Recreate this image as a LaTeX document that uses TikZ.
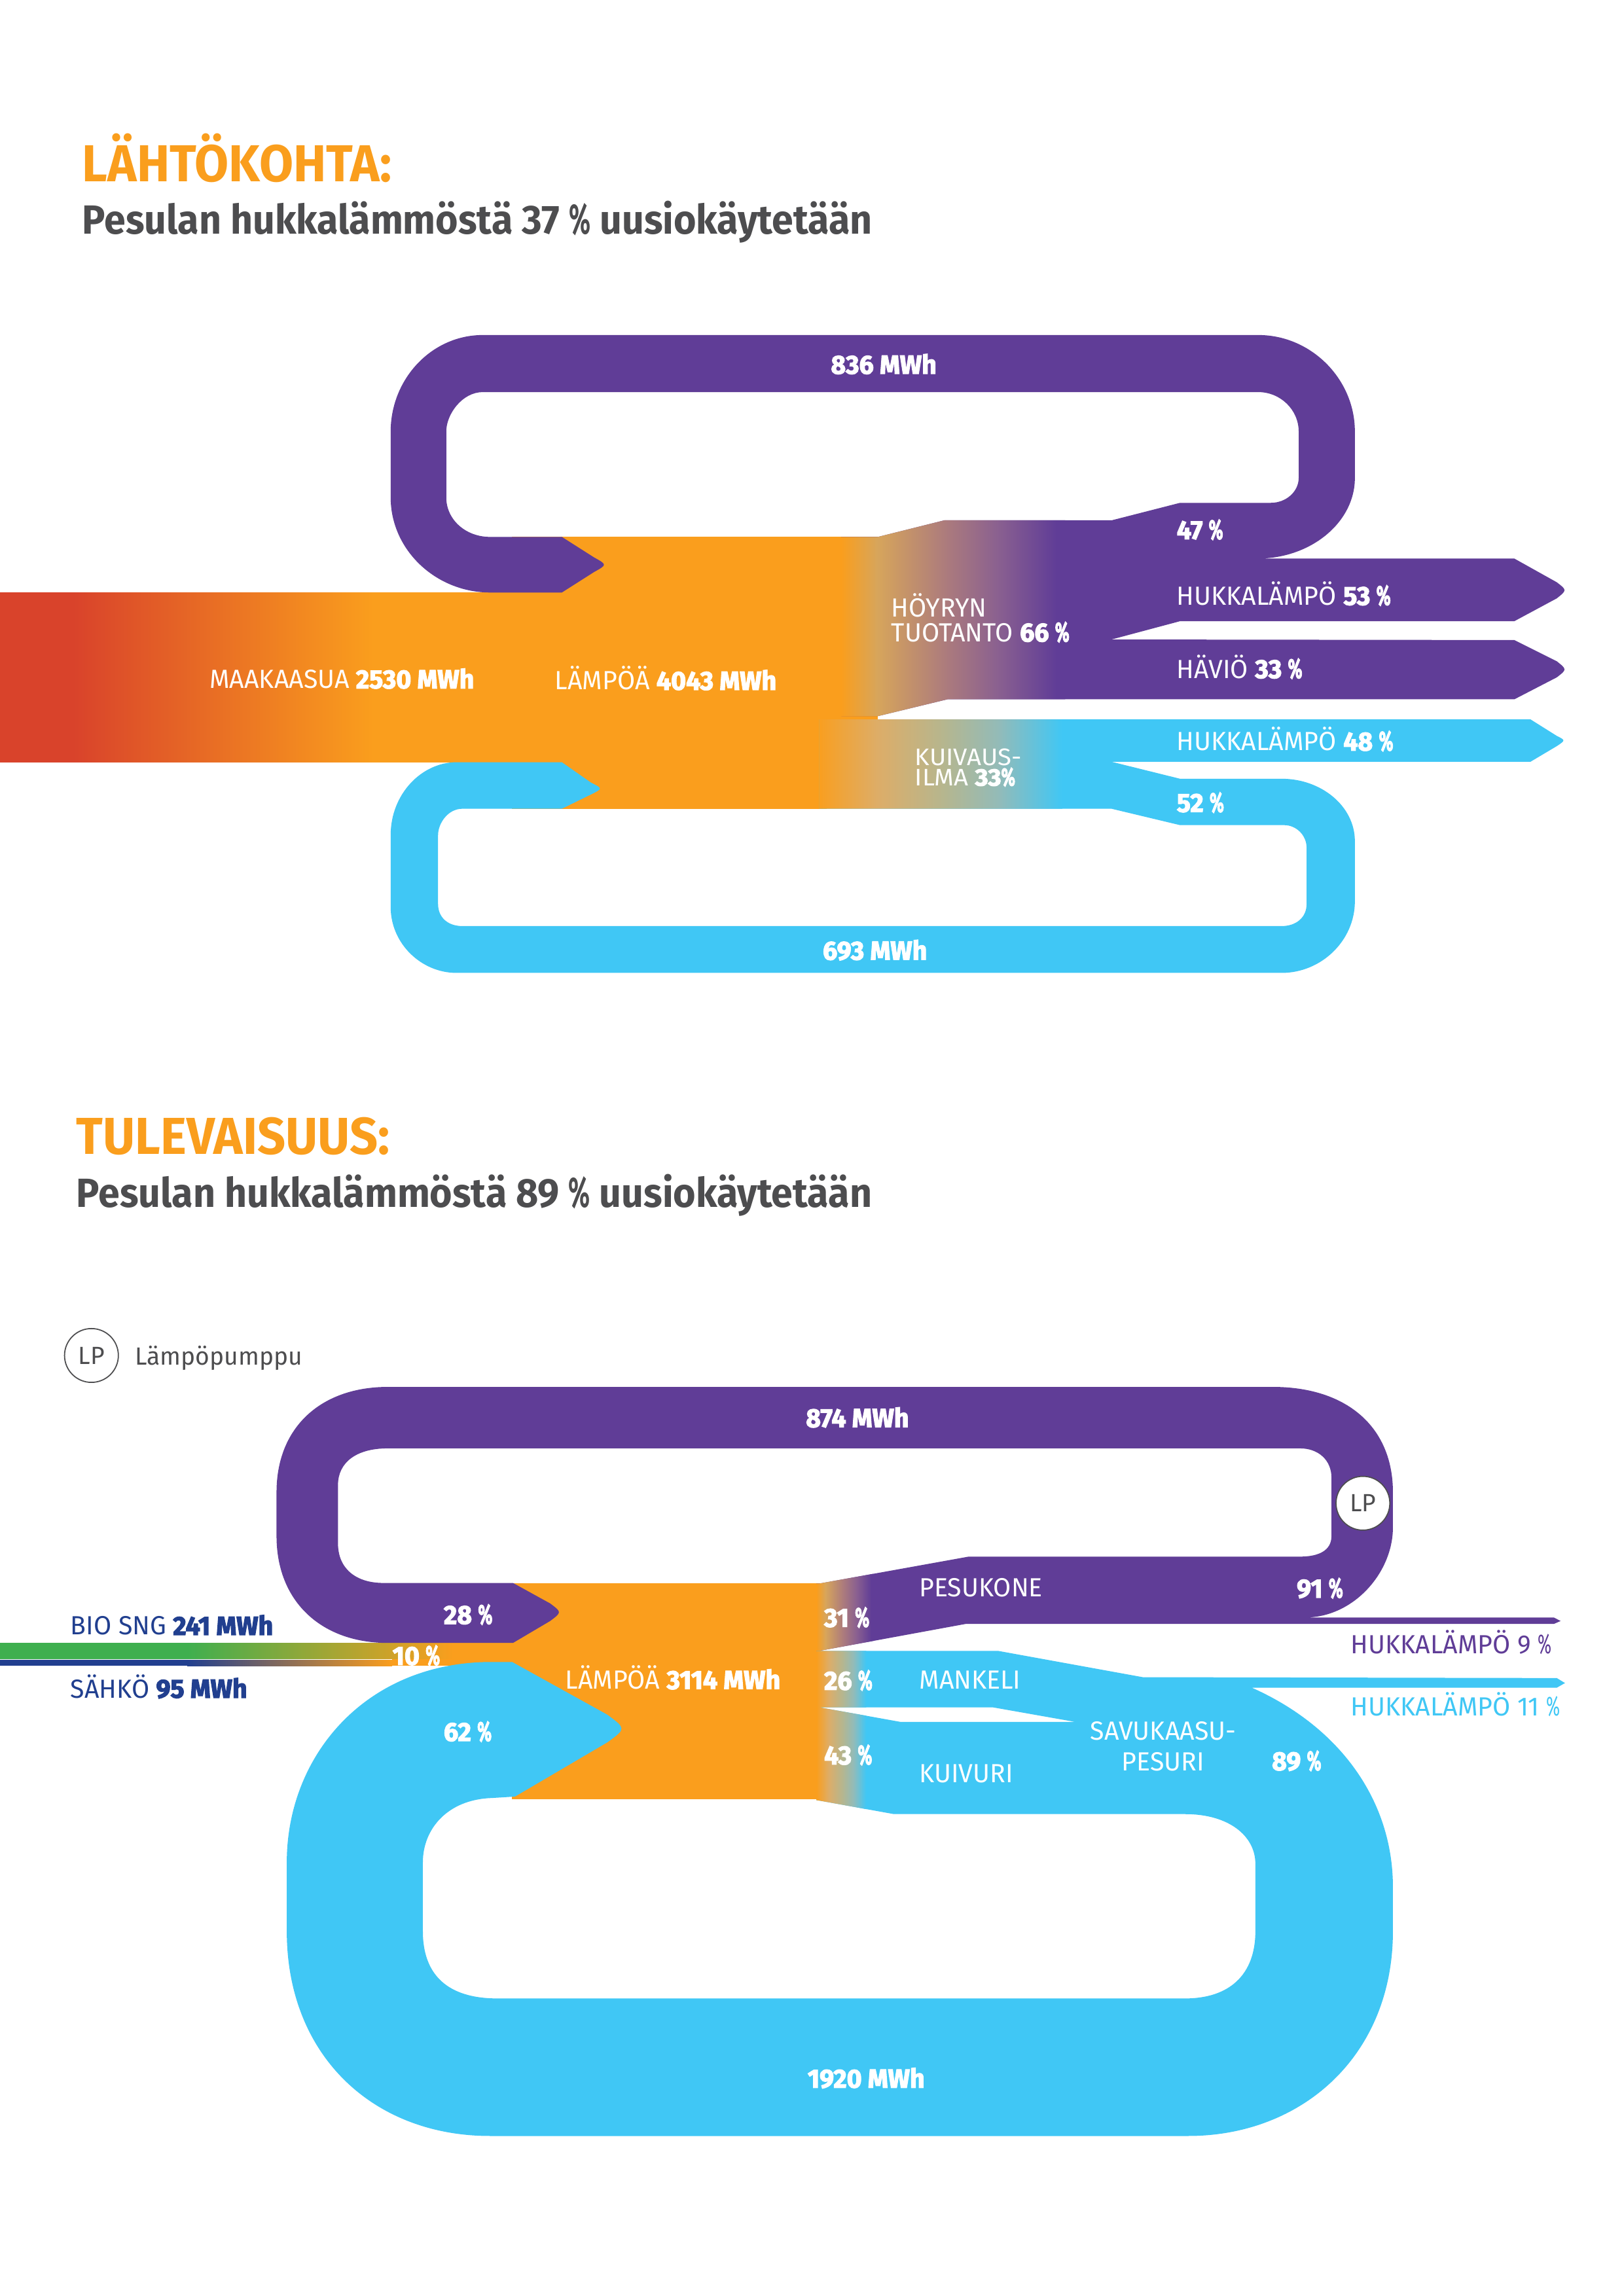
\documentclass[tikz,border=0pt]{standalone}
\usepackage{graphicx}
\usepackage{fontspec}
\setmainfont{Fira Sans}[FakeStretch=.98,BoldFeatures={FakeBold=3}]
\newfontfamily\hfam{Fira Sans}[FakeStretch=.95]
\newcommand{\pct}{\scalebox{.65}[1.05]{\%}}
\definecolor{pur}{HTML}{603D97}
\definecolor{org}{HTML}{FA9E1D}
\definecolor{blu}{HTML}{40C7F5}
\definecolor{redd}{HTML}{D9432B}
\definecolor{grn}{HTML}{3FAF4F}
\definecolor{nvy}{HTML}{213F8F}
\definecolor{gry}{HTML}{4D4D4F}
\definecolor{pa}{HTML}{D7A55B}
\definecolor{pb}{HTML}{AD7C7C}
\definecolor{pc}{HTML}{8A6090}
\definecolor{ba}{HTML}{DDAD68}
\definecolor{bb}{HTML}{B5B68F}
\definecolor{bc}{HTML}{93BBB8}
\pgfdeclarehorizontalshading{orgpur}{100bp}{color(0bp)=(org); color(25bp)=(org); color(33bp)=(pa); color(48bp)=(pb); color(60bp)=(pc); color(73bp)=(pur); color(100bp)=(pur)}
\pgfdeclarehorizontalshading{orgblu}{100bp}{color(0bp)=(org); color(25bp)=(org); color(37.5bp)=(ba); color(51bp)=(bb); color(62bp)=(bc); color(75bp)=(blu); color(100bp)=(blu)}
\tikzset{
  lab/.style={anchor=base west,inner sep=0pt,text=white,font=\fontsize{11.4}{14}\selectfont},
  clab/.style={lab,anchor=base},
  tight/.style={lab,font=\fontsize{10.4}{12}\selectfont},
  heada/.style={anchor=base west,inner sep=0pt,text=org,font=\hfam\fontsize{22.6}{26}\selectfont\bfseries},
  headb/.style={anchor=base west,inner sep=0pt,text=gry,font=\hfam\fontsize{17.7}{20}\selectfont\bfseries},
  lpc/.style={circle,draw=gry,line width=.5pt,fill=white,minimum size=23.4pt,inner sep=0pt,text=gry,font=\fontsize{10.8}{13}\selectfont}
}
\begin{document}
\begin{tikzpicture}[x=0.022353cm,y=-0.022353cm]
\useasboundingbox (0,0) rectangle (1109.5,1569.4);
\fill[white] (0,0) rectangle (1109.5,1569.4);
%% ---------- top diagram ----------
\fill[redd] (0,405) rectangle (50,521);
\shade[left color=redd,right color=org] (50,405) rectangle (255,521);
\fill[org] (254,405) rectangle (400,521);
\fill[org] (350,367) rectangle (600,489.5);
\fill[org] (350,489) rectangle (600,491.7);
\fill[org] (350,489) rectangle (565,552.8);
\begin{scope}
\clip (575,367) -- (600,367) -- (645.6,355.6) -- (760,355.6) -- (806.5,343.7) -- (868.6,343.7)
 .. controls (879,343.7) and (887.6,336) .. (887.6,326.7) -- (887.6,295)
 .. controls (887.6,280) and (875,268) .. (860,268) -- (330,268)
 .. controls (316,268) and (305,283) .. (305,295) -- (305,340)
 .. controls (305,355) and (318,367) .. (335,367) -- (384,367) -- (406,381)
 .. controls (415,386) .. (406,391) -- (384,405) -- (335,405)
 .. controls (298,405) and (267,376) .. (267,340) -- (267,295)
 .. controls (267,259) and (295,229) .. (330,229) -- (860,229)
 .. controls (896,229) and (926,259) .. (926,295) -- (926,326.7)
 .. controls (926,357) and (896,381.8) .. (859.5,381.8) -- (1035,381.8) -- (1064,398)
 .. controls (1071,403.4) .. (1064,409) -- (1035,424.6) -- (806.5,424.6) -- (759.7,437.1)
 -- (1035,437.5) -- (1064,452) .. controls (1071,457.6) .. (1064,463) -- (1035,478)
 -- (647.5,478) -- (600,489.5) -- (575,489.5) -- cycle;
\fill[pur] (200,200) rectangle (1100,500);
\shade[shading=orgpur] (575,340) rectangle (728,500);
\end{scope}
\begin{scope}
\clip (560,491.7) -- (1046,491.7) -- (1064,503) .. controls (1070,506) .. (1064,510) -- (1046,520.7)
 -- (759.7,520.7) -- (806.5,532.3) -- (876,532.3)
 .. controls (903,532.3) and (926,551) .. (926,575) -- (926,616)
 .. controls (926,643) and (903,665) .. (876,665) -- (312,665)
 .. controls (288,665) and (267,645) .. (267,620) -- (267,570.7)
 .. controls (267,543) and (288,521) .. (312,521) -- (384,521) -- (404,535)
 .. controls (412,539) .. (404,543) -- (384,552.8) -- (316,552.8)
 .. controls (306,552.8) and (299.4,563) .. (299.4,570.7) -- (299.4,618)
 .. controls (299.4,627) and (306,633) .. (316,633) -- (876,633)
 .. controls (886,633) and (893,627) .. (893,618) -- (893,579.4)
 .. controls (893,571) and (886,564) .. (877.7,564) -- (806.5,564) -- (759.7,552.8) -- (560,552.8) -- cycle;
\fill[blu] (200,480) rectangle (1100,700);
\shade[shading=orgblu] (558,485) rectangle (726,560);
\end{scope}
%% ---------- bottom diagram ----------
\fill[grn] (0,1123) rectangle (128,1134);
\shade[left color=grn,right color=org] (128,1123) rectangle (310,1134);
\fill[nvy] (0,1134.6) rectangle (128,1138.6);
\shade[left color=nvy,right color=org] (128,1134.6) rectangle (268,1138.6);
\fill[org] (268,1134.2) rectangle (400,1138.6);
\fill[org] (309,1123) rectangle (400,1138);
\fill[org] (350,1082) rectangle (561,1230);
\begin{scope}
\clip (558,1082.4) -- (560,1082.4) -- (662,1064) -- (888.5,1064)
 .. controls (901,1064) and (910,1060) .. (910,1050) -- (910,1010)
 .. controls (910,998) and (901,990) .. (888.5,990) -- (265,990)
 .. controls (243,990) and (231,1000) .. (231,1015) -- (231,1055)
 .. controls (231,1072) and (243,1082) .. (262,1082) -- (350.6,1082) -- (376,1096)
 .. controls (384,1102) .. (376,1108) -- (350.6,1123) -- (265,1123)
 .. controls (220,1123) and (189,1095) .. (189,1050) -- (189,1020)
 .. controls (189,975) and (220,948) .. (265,948) -- (870,948)
 .. controls (920,948) and (952,975) .. (952,1020) -- (952,1044)
 .. controls (952,1075) and (925,1105.6) .. (892,1105.6) -- (1062,1105.6) -- (1066.6,1108)
 -- (1062,1110) -- (660,1110) -- (560,1128.4) -- (558,1128.4) -- cycle;
\fill[pur] (150,900) rectangle (1100,1140);
\shade[shading=orgpur] (558,1050) rectangle (597,1140);
\end{scope}
\begin{scope}
\clip (558,1128.4) -- (682,1128.4) -- (781,1146.4) -- (1064,1147) -- (1069.6,1150.4)
 -- (1064,1153.6) -- (855.6,1153.6)
 .. controls (915,1180) and (952,1230) .. (952,1290) -- (952,1320)
 .. controls (952,1405) and (890,1460) .. (812,1460) -- (335,1460)
 .. controls (255,1460) and (196,1405) .. (196,1320) -- (196,1273)
 .. controls (196,1200) and (250,1136) .. (336,1136) -- (350,1136) -- (415,1172)
 .. controls (428,1181.6) .. (415,1191) -- (352,1228) -- (336,1229)
 .. controls (306,1230) and (289,1250) .. (289,1273) -- (289,1320)
 .. controls (289,1350) and (306,1366) .. (340,1366) -- (810,1366)
 .. controls (840,1366) and (858,1350) .. (858,1320) -- (858,1274)
 .. controls (858,1255) and (840,1240) .. (810,1240) -- (611,1240) -- (558.5,1230.5)
 -- (558,1230.5) -- (558,1167) -- (560,1167) -- (615.6,1177) -- (735,1177) -- (678.5,1167)
 -- (558,1167) -- cycle;
\fill[blu] (150,1100) rectangle (1100,1500);
\shade[shading=orgblu] (558,1120) rectangle (592,1250);
\end{scope}
%% ---------- texts ----------
\node[heada] (h1) at (56,124) {LÄHTÖKOHTA:};
\node[headb] (s1) at (56,160) {Pesulan hukkalämmöstä 37 \pct{} uusiokäytetään};
\node[heada] (h2) at (52,789) {TULEVAISUUS:};
\node[headb] (s2) at (52,825) {Pesulan hukkalämmöstä 89 \pct{} uusiokäytetään};
\node[clab] (a1) at (604,255.5) {\bfseries 836 MWh};
\node[lab] (a2) at (804,368.5) {\bfseries 47 \pct};
\node[lab] (a3) at (609,421.5) {HÖYRYN};
\node[lab] (a4) at (609,438.5) {TUOTANTO {\bfseries 66 \pct}};
\node[lab] (a5) at (804,413.5) {HUKKALÄMPÖ {\bfseries 53 \pct}};
\node[lab] (a6) at (804,463.5) {HÄVIÖ {\bfseries 33 \pct}};
\node[lab] (a7) at (804,513) {HUKKALÄMPÖ {\bfseries 48 \pct}};
\node[tight] (a8) at (625,523) {\scalebox{1.07}[1]{KUIVAUS-}};
\node[tight] (a9) at (625,537) {\scalebox{1.07}[1]{ILMA {\bfseries 33\pct}}};
\node[lab] (a10) at (804,555) {\bfseries 52 \pct};
\node[clab] (a11) at (598,656) {\bfseries 693 MWh};
\node[lab] (a12) at (143,470.5) {MAAKAASUA {\bfseries 2530 MWh}};
\node[lab] (a13) at (379,471.5) {LÄMPÖÄ {\bfseries 4043 MWh}};
\node[clab] (b1) at (586,975.5) {\bfseries 874 MWh};
\node[lab,text=nvy] (b2) at (48,1117.5) {BIO SNG {\bfseries 241 MWh}};
\node[lab,text=nvy] (b3) at (48,1160.5) {SÄHKÖ {\bfseries 95 MWh}};
\node[lab] (b4) at (303,1110) {\bfseries 28 \pct};
\node[lab] (b5) at (268,1138) {\bfseries 10 \pct};
\node[lab] (b6) at (303,1190) {\bfseries 62 \pct};
\node[lab] (b7) at (386,1154.5) {LÄMPÖÄ {\bfseries 3114 MWh}};
\node[lab] (b8) at (563,1112) {\bfseries 31 \pct};
\node[lab] (b9) at (563,1155) {\bfseries 26 \pct};
\node[lab] (b10) at (563,1206) {\bfseries 43 \pct};
\node[lab] (b11) at (628,1091.5) {PESUKONE};
\node[lab] (b12) at (628,1154.5) {MANKELI};
\node[lab] (b13) at (628,1218.5) {KUIVURI};
\node[clab] (b14) at (795,1189.5) {SAVUKAASU-};
\node[clab] (b15) at (795,1210.5) {PESURI};
\node[lab] (b16) at (886,1092) {\bfseries 91 \pct};
\node[lab] (b17) at (869,1210) {\bfseries 89 \pct};
\node[lab,text=pur] (b18) at (923,1130.5) {HUKKALÄMPÖ 9 \pct};
\node[lab,text=blu] (b19) at (923,1173) {HUKKALÄMPÖ 11 \pct};
\node[clab] (b20) at (592,1427) {\bfseries 1920 MWh};
\node[lpc] (lp1) at (62.5,926.5) {LP};
\node[lab,text=gry,font=\fontsize{10.8}{13}\selectfont] (lp1t) at (92,933) {Lämpöpumppu};
\node[lpc] (lp2) at (931.5,1027.5) {LP};
\end{tikzpicture}
\end{document}
